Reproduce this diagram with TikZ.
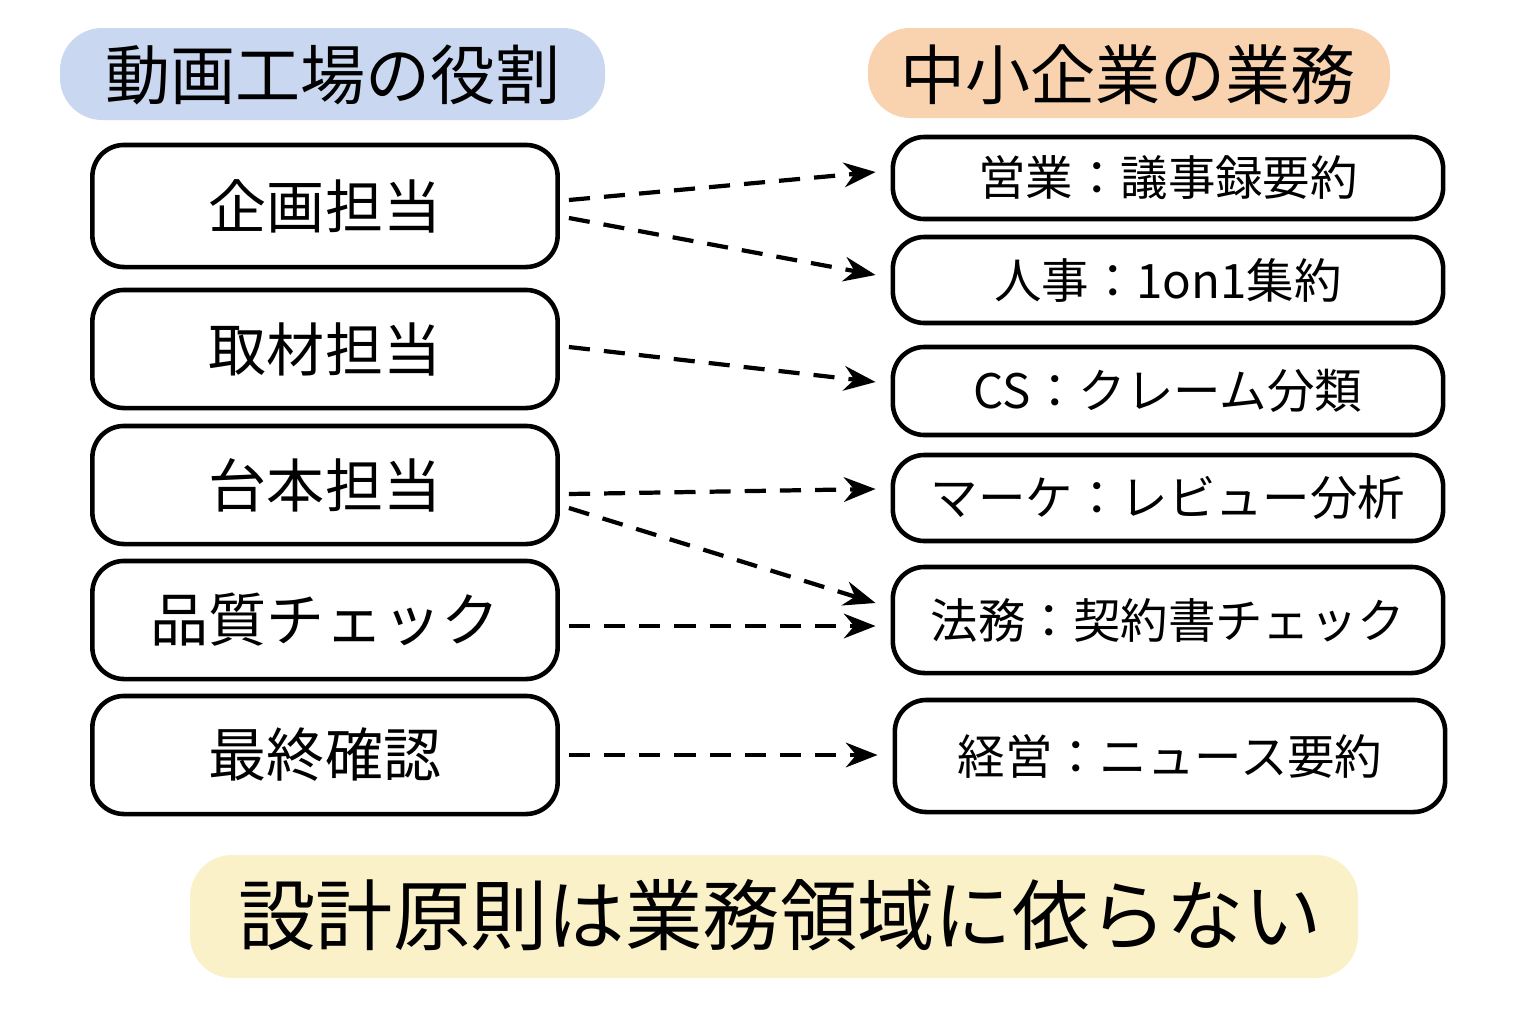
\documentclass[tikz,border=0pt]{standalone}
\usepackage{fontspec}
\setmainfont{Noto Sans CJK JP}
\usetikzlibrary{arrows.meta,calc}
\definecolor{hlblue}{HTML}{C9D7F0}
\definecolor{hlorange}{HTML}{F9D2B0}
\definecolor{hlyellow}{HTML}{FBF1C8}
\tikzset{
  role/.style={draw, line width=1.3pt, rounded corners=9pt, minimum width=4.65cm, minimum height=1.18cm, font=\fontsize{16.5}{18}\selectfont},
  task/.style={draw, line width=1.3pt, rounded corners=9pt, minimum width=5.5cm, font=\fontsize{13.5}{15}\selectfont},
  link/.style={line width=1.2pt, dash pattern=on 6pt off 4pt, -{Stealth[length=9pt,width=7pt]}},
  band/.style={rounded corners=12pt, inner sep=0pt}
}
\begin{document}
\begin{tikzpicture}[x=0.01cm,y=-0.01cm]
\useasboundingbox[fill=white] (0,0) rectangle (1536,1024);
% Headings
\fill[hlblue, band] (60,28) rectangle (605,120);
\node[font=\fontsize{18.5}{20}\selectfont] (lhead) at (333,75) {動画工場の役割};
\fill[hlorange, band] (868,28) rectangle (1390,118);
\node[font=\fontsize{18.5}{20}\selectfont] (rhead) at (1128,75) {中小企業の業務};
% Left column
\node[role, minimum height=1.22cm] (l1) at (325,206) {企画担当};
\node[role] (l2) at (325,349) {取材担当};
\node[role] (l3) at (325,485) {台本担当};
\node[role] (l4) at (325,620) {品質チェック};
\node[role] (l5) at (325,755) {最終確認};
% Right column
\node[task, minimum height=0.82cm] (r1) at (1168,178) {営業：議事録要約};
\node[task, minimum height=0.86cm] (r2) at (1168,280) {人事：1on1集約};
\node[task, minimum height=0.88cm] (r3) at (1168,391) {CS：クレーム分類};
\node[task, minimum height=0.86cm] (r4) at (1168,498) {マーケ：レビュー分析};
\node[task, minimum height=1.06cm] (r5) at (1168,620) {法務：契約書チェック};
\node[task, minimum height=1.12cm] (r6) at (1170,756) {経営：ニュース要約};
% Links
\draw[link] ($(l1.east)+(9,-6)$) -- ($(r1.west)+(-15,-6)$);
\draw[link] ($(l1.east)+(9,12)$) -- ($(r2.west)+(-15,-5)$);
\draw[link] ($(l2.east)+(9,-2)$) -- ($(r3.west)+(-15,-9)$);
\draw[link] ($(l3.east)+(9,9)$) -- ($(r4.west)+(-15,-9)$);
\draw[link] ($(l3.east)+(9,23)$) -- ($(r5.west)+(-15,-17)$);
\draw[link] ($(l4.east)+(9,6)$) -- ($(r5.west)+(-15,6)$);
\draw[link] ($(l5.east)+(9,0)$) -- ($(r6.west)+(-15,-1)$);
% Bottom message
\fill[hlyellow, band] (190,855) rectangle (1358,978);
\node[font=\fontsize{22}{24}\selectfont] (msg) at (780,915) {設計原則は業務領域に依らない};
\end{tikzpicture}
\end{document}
